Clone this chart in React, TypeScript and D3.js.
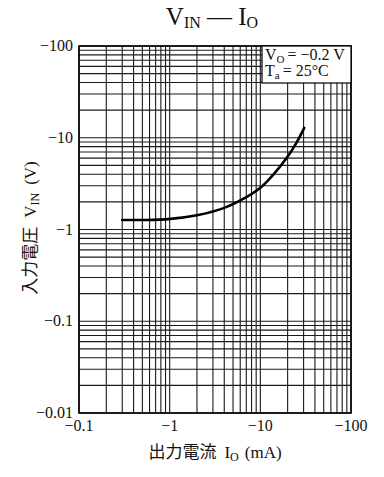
import React from "react";
import * as d3 from "d3";

// 出力電流 I_O (mA) vs 入力電圧 V_IN (V), V_O = -0.2 V, Ta = 25°C
const ioValues = [-0.3, -0.9, -2.0, -4.0, -7.0, -10, -14, -19.5, -25, -30.5];
const vinValues = [-1.27, -1.29, -1.43, -1.72, -2.25, -2.85, -4.0, -6.0, -8.8, -12.8];

const xTickLabels = ["−0.1", "−1", "−10", "−100"];
const xTickValues = [-0.1, -1, -10, -100];
const yTickLabels = ["−100", "−10", "−1", "−0.1", "−0.01"];
const yTickValues = [-100, -10, -1, -0.1, -0.01];

const serif = "'Liberation Serif', 'DejaVu Serif', serif";
const cjk = "'Noto Sans CJK JP', sans-serif";

const App = () => {
  const width = 384;
  const height = 477;
  const left = 79, right = 351, top = 46, bottom = 413;

  const x = d3.scaleLog().domain([-0.1, -100]).range([left, right]);
  const y = d3.scaleLog().domain([-0.01, -100]).range([bottom, top]);

  const line = d3
    .line<number>()
    .x((d, i) => x(ioValues[i]))
    .y((d) => y(d))
    .curve(d3.curveCatmullRom.alpha(0.5));

  return (
    <div style={{ position: "absolute", left: 0, top: 0 }}>
      <svg width={width} height={height} style={{ display: "block", background: "#fff" }}>
        {/* title */}
        <text x={212} y={25} textAnchor="middle" fontFamily={serif} fontSize={25} fill="#111">
          V<tspan fontSize={16} dy={3}>IN</tspan>
          <tspan dy={-3}> — I</tspan>
          <tspan fontSize={16} dy={3}>O</tspan>
        </text>

        {/* grid */}
        <g stroke="#1a1a1a" strokeWidth={1.1}>
          {x.ticks().map((t, i) => (
            <line key={"vx" + i} x1={x(t)} x2={x(t)} y1={top} y2={bottom} />
          ))}
          {y.ticks().map((t, i) => (
            <line key={"hy" + i} x1={left} x2={right} y1={y(t)} y2={y(t)} />
          ))}
        </g>

        {/* frame */}
        <rect x={left} y={top} width={right - left} height={bottom - top} fill="none" stroke="#000" strokeWidth={1.6} />

        {/* conditions box */}
        <rect x={262} y={top} width={right - 262} height={37} fill="#fff" stroke="#000" strokeWidth={1.2} />
        <text x={265} y={60} fontFamily={serif} fontSize={16} fill="#111">
          V<tspan fontSize={11} dy={3}>O</tspan>
          <tspan dy={-3} dx={3}>= −0.2 V</tspan>
        </text>
        <text x={265} y={76} fontFamily={serif} fontSize={16} fill="#111">
          T<tspan fontSize={11} dy={3}>a</tspan>
          <tspan dy={-3} dx={3}>= 25°C</tspan>
        </text>

        {/* curve */}
        <path d={line(vinValues) || ""} fill="none" stroke="#000" strokeWidth={2.6} strokeLinecap="round" />

        {/* y tick labels */}
        {yTickValues.map((v, i) => (
          <text key={"yl" + i} x={73} y={y(v) + 5} textAnchor="end" fontFamily={serif} fontSize={16} fill="#111">
            {yTickLabels[i]}
          </text>
        ))}

        {/* x tick labels */}
        {xTickValues.map((v, i) => (
          <text key={"xl" + i} x={x(v)} y={431} textAnchor="middle" fontFamily={serif} fontSize={16} fill="#111">
            {xTickLabels[i]}
          </text>
        ))}

        {/* x axis title */}
        <text x={215} y={458} textAnchor="middle" fontSize={17} fill="#111">
          <tspan fontFamily={cjk}>出力電流</tspan>
          <tspan fontFamily={serif} dx={8}>I</tspan>
          <tspan fontFamily={serif} fontSize={12} dy={3}>O</tspan>
          <tspan fontFamily={serif} dy={-3} dx={6}>(mA)</tspan>
        </text>

        {/* y axis title */}
        <text transform="translate(36,228) rotate(-90)" textAnchor="middle" fontSize={17} fill="#111">
          <tspan fontFamily={cjk}>入力電圧</tspan>
          <tspan fontFamily={serif} dx={9}>V</tspan>
          <tspan fontFamily={serif} fontSize={12} dy={3}>IN</tspan>
          <tspan fontFamily={serif} dy={-3} dx={8}>(V)</tspan>
        </text>
      </svg>
    </div>
  );
};

export default App;
